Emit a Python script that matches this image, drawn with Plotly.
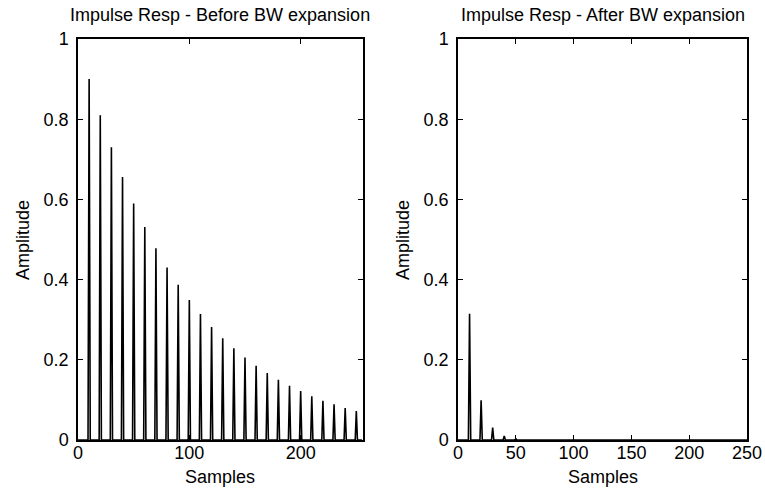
import plotly.graph_objects as go

# Data
n_samples = 256
peak_samples = [10, 20, 30, 40, 50, 60, 70, 80, 90, 100, 110, 120, 130,
                140, 150, 160, 170, 180, 190, 200, 210, 220, 230, 240, 250]
peak_before = [0.90, 0.81, 0.73, 0.656, 0.59, 0.531, 0.478, 0.43, 0.387,
               0.349, 0.314, 0.282, 0.254, 0.229, 0.206, 0.185, 0.167,
               0.150, 0.135, 0.122, 0.109, 0.098, 0.089, 0.080, 0.072]
peak_after = [0.315, 0.099, 0.031, 0.0098, 0.0031, 0.001, 0.0003, 0.0001,
              0, 0, 0, 0, 0, 0, 0, 0, 0, 0, 0, 0, 0, 0, 0, 0, 0]

titles = ["Impulse Resp - Before BW expansion", "Impulse Resp - After BW expansion"]
x_label = "Samples"
y_label = "Amplitude"
y_ticks = [0, 0.2, 0.4, 0.6, 0.8, 1]
x_ticks_left = [0, 100, 200]
x_ticks_right = [0, 50, 100, 150, 200, 250]


def build(peaks):
    x = list(range(n_samples))
    y = [0.0] * n_samples
    for s, v in zip(peak_samples, peaks):
        y[s] = v
    return x, y


W, H = 765, 490
FONT = "Liberation Sans, Arial, Helvetica, sans-serif"
fs = 18

fig = go.Figure()
xb, yb = build(peak_before)
xa, ya = build(peak_after)
fig.add_trace(go.Scatter(x=xb, y=yb, mode="lines", line=dict(color="black", width=1.6),
                         xaxis="x", yaxis="y", showlegend=False))
fig.add_trace(go.Scatter(x=xa, y=ya, mode="lines", line=dict(color="black", width=1.6),
                         xaxis="x2", yaxis="y2", showlegend=False))

L = [(78, 363), (458, 747)]
top, bot = 39, 440
ydom = [(H - bot) / H, (H - top) / H]

axis_common = dict(showline=True, linecolor="black", linewidth=1.5, mirror="ticks",
                   ticks="inside", ticklen=5, tickwidth=1, tickcolor="black",
                   showgrid=False, zeroline=False, automargin=False,
                   tickfont=dict(family=FONT, size=fs, color="black"))

fig.update_layout(
    template="none",
    width=W, height=H,
    margin=dict(l=0, r=0, t=0, b=0, autoexpand=False),
    paper_bgcolor="white", plot_bgcolor="white",
    xaxis=dict(domain=[L[0][0] / W, L[0][1] / W], range=[0, 256], tickvals=x_ticks_left,
               anchor="y", ticklabelstandoff=-4, **axis_common),
    yaxis=dict(domain=ydom, range=[0, 1], tickvals=y_ticks, anchor="x",
               ticklabelstandoff=4, **axis_common),
    xaxis2=dict(domain=[L[1][0] / W, L[1][1] / W], range=[0, 250], tickvals=x_ticks_right,
                anchor="y2", ticklabelstandoff=-4, **axis_common),
    yaxis2=dict(domain=ydom, range=[0, 1], tickvals=y_ticks, anchor="x2",
                ticklabelstandoff=4, **axis_common),
)

annos = []
for i, (l, r) in enumerate(L):
    cx = (l + r) / 2 / W
    annos.append(dict(text=titles[i], x=cx, y=(H - 15) / H, xref="paper", yref="paper",
                      showarrow=False, xanchor="center", yanchor="middle",
                      font=dict(family=FONT, size=fs, color="black")))
    annos.append(dict(text=x_label, x=cx, y=(H - 477) / H, xref="paper", yref="paper",
                      showarrow=False, xanchor="center", yanchor="middle",
                      font=dict(family=FONT, size=fs, color="black")))
    annos.append(dict(text=y_label, x=(l - 55) / W, y=(H - 240) / H, xref="paper", yref="paper",
                      showarrow=False, xanchor="center", yanchor="middle", textangle=-90,
                      font=dict(family=FONT, size=fs, color="black")))
fig.update_layout(annotations=annos)

fig.write_html("out.html")
